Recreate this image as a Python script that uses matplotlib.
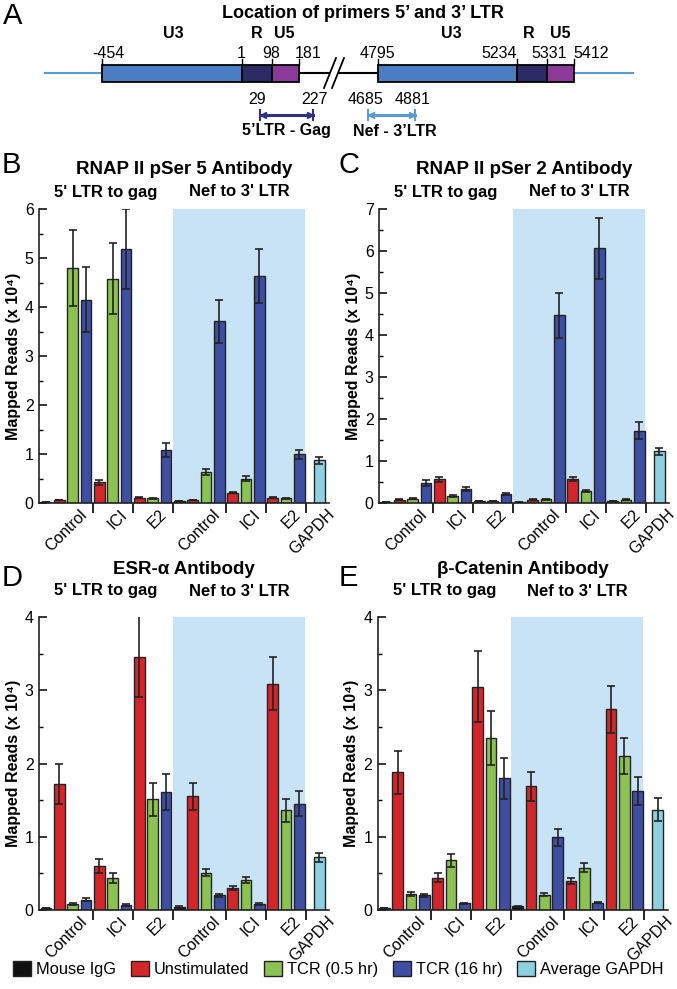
import matplotlib
matplotlib.use("Agg")
import matplotlib.pyplot as plt
from matplotlib.patches import Rectangle, Patch, Polygon
from matplotlib.ticker import MultipleLocator

plt.rcParams["font.family"] = ["Liberation Sans", "DejaVu Sans"]

W, H = 677, 989

# ---- data -------------------------------------------------------------
# bar order inside each primer region: Control (IgG + 3), ICI (3), E2 (3)
slot_series = ["igg", "unstim", "tcr05", "tcr16",
               "unstim", "tcr05", "tcr16",
               "unstim", "tcr05", "tcr16"] * 2
group_labels = ["Control", "ICI", "E2", "Control", "ICI", "E2", "GAPDH"]
group_sizes = [4, 3, 3, 4, 3, 3]

pser5_vals = [0.03, 0.06, 4.80, 4.15, 0.42, 4.58, 5.18, 0.11, 0.10, 1.08,
              0.05, 0.07, 0.63, 3.71, 0.21, 0.50, 4.63, 0.11, 0.10, 0.99]
pser5_err = [0.0, 0.0, 0.77, 0.66, 0.05, 0.73, 0.82, 0.01, 0.01, 0.15,
             0.0, 0.0, 0.06, 0.44, 0.01, 0.05, 0.55, 0.01, 0.01, 0.10]
pser5_gapdh, pser5_gapdh_err = 0.87, 0.07

pser2_vals = [0.02, 0.08, 0.10, 0.48, 0.56, 0.17, 0.33, 0.04, 0.05, 0.22,
              0.03, 0.08, 0.09, 4.47, 0.57, 0.29, 6.06, 0.05, 0.08, 1.72]
pser2_err = [0.0, 0.01, 0.01, 0.07, 0.07, 0.02, 0.04, 0.0, 0.0, 0.02,
             0.0, 0.01, 0.01, 0.53, 0.05, 0.02, 0.72, 0.0, 0.01, 0.20]
pser2_gapdh, pser2_gapdh_err = 1.23, 0.08

esr_vals = [0.03, 1.72, 0.08, 0.14, 0.60, 0.44, 0.07, 3.46, 1.51, 1.61,
            0.04, 1.55, 0.51, 0.20, 0.30, 0.41, 0.08, 3.09, 1.36, 1.45]
esr_err = [0.0, 0.27, 0.01, 0.02, 0.09, 0.07, 0.01, 0.55, 0.23, 0.25,
           0.01, 0.18, 0.05, 0.02, 0.03, 0.04, 0.01, 0.36, 0.16, 0.17]
esr_gapdh, esr_gapdh_err = 0.72, 0.06

bcat_vals = [0.03, 1.88, 0.22, 0.20, 0.44, 0.68, 0.09, 3.05, 2.35, 1.80,
             0.05, 1.69, 0.21, 0.99, 0.40, 0.58, 0.10, 2.74, 2.10, 1.62]
bcat_err = [0.0, 0.29, 0.03, 0.02, 0.06, 0.09, 0.01, 0.48, 0.37, 0.28,
            0.01, 0.20, 0.02, 0.11, 0.04, 0.06, 0.01, 0.32, 0.25, 0.19]
bcat_gapdh, bcat_gapdh_err = 1.37, 0.16

series_names = {"igg": "Mouse IgG", "unstim": "Unstimulated", "tcr05": "TCR (0.5 hr)",
                "tcr16": "TCR (16 hr)", "gapdh": "Average GAPDH"}
colors = {"igg": "#111111", "unstim": "#d3262a", "tcr05": "#8cc252",
          "tcr16": "#3e4fa2", "gapdh": "#8ecfe0"}
SHADE = "#c8e3f5"
EDGE = "#222222"

ltr5_coords = ["-454", "1", "98", "181"]
ltr3_coords = ["4795", "5234", "5331", "5412"]
primer_coords = ["29", "227", "4685", "4881"]

fig = plt.figure(figsize=(W / 100, H / 100), dpi=100)


def px_axes(left, top, width, height):
    return fig.add_axes([left / W, 1 - (top + height) / H, width / W, height / H])


# ---- panel A: LTR schematic (drawn in pixel units) -------------------
axA = px_axes(0, 0, W, 150)
axA.set_xlim(0, W)
axA.set_ylim(150, 0)
axA.axis("off")

box_top, box_bot, mid = 65, 82, 73
ltr5_edges = [102, 242, 272, 299]
ltr3_edges = [378, 517, 547, 574]
seg_colors = ["#4b7dc2", "#2b2c66", "#8b3a99"]
axA.plot([45, 102], [mid, mid], color="#5b9bd5", lw=1.5)
axA.plot([574, 633], [mid, mid], color="#5b9bd5", lw=1.5)
axA.plot([299, 378], [mid, mid], color="black", lw=1.5)
axA.add_patch(Polygon([[324, 88], [336, 58], [344, 58], [332, 88]],
                      closed=True, facecolor="white", edgecolor="none", zorder=3))
for x0 in (324, 332):
    axA.plot([x0, x0 + 12], [88, 58], color="black", lw=1.3, zorder=4)
for edges in (ltr5_edges, ltr3_edges):
    for i in range(3):
        axA.add_patch(Rectangle((edges[i], box_top), edges[i + 1] - edges[i], box_bot - box_top,
                                facecolor=seg_colors[i], edgecolor="black", lw=1.3, zorder=2))
    for e in edges:
        axA.plot([e, e], [59, box_top], color="black", lw=1.0)

for x, lab in zip([173, 257, 284, 451, 529, 560], ["U3", "R", "U5"] * 2):
    axA.text(x, 34, lab, ha="center", va="center", fontsize=11.5, fontweight="bold")
for x, lab in zip([108, 241, 271, 308, 377, 499, 549, 591], ltr5_coords + ltr3_coords):
    axA.text(x, 53, lab, ha="center", va="center", fontsize=11.5)
for x, lab in zip([257, 314, 366, 413], primer_coords):
    axA.text(x, 99, lab, ha="center", va="center", fontsize=11.5)

for (x0, x1), c in zip([(260, 313), (368, 415)], ["#2e3184", "#5b9bd5"]):
    axA.plot([x0, x1], [115, 115], color=c, lw=2.2)
    axA.plot([x0 + 3], [115], marker="<", color=c, ms=5)
    axA.plot([x1 - 3], [115], marker=">", color=c, ms=5)
    axA.plot([x0, x0], [110, 120], color=c, lw=1.5)
    axA.plot([x1, x1], [110, 120], color=c, lw=1.5)
axA.text(286, 131, "5\u2019LTR - Gag", ha="center", va="center", fontsize=11.5, fontweight="bold")
axA.text(395, 131, "Nef - 3\u2019LTR", ha="center", va="center", fontsize=11.5, fontweight="bold")
axA.text(363, 13, "Location of primers 5\u2019 and 3\u2019 LTR", ha="center", va="center",
         fontsize=13, fontweight="bold")
fig.text(13 / W, 1 - 16 / H, "A", ha="center", va="center", fontsize=21)


# ---- bar panels ---------------------------------------------------------
bounds = [sum(group_sizes[:i + 1]) for i in range(len(group_sizes))]
slot_x = [i + 0.5 for i in range(len(slot_series))]
gapdh_x = bounds[-1] + 1.0
label_x = [b - 0.6 for b in bounds] + [gapdh_x + 0.95]


def draw_panel(ax, vals, errs, gval, gerr, ymax):
    ax.axvspan(bounds[2], bounds[-1] - 0.1, color=SHADE, lw=0, zorder=0)
    ax.bar(slot_x, vals, width=0.8, color=[colors[s] for s in slot_series],
           edgecolor=EDGE, linewidth=1.0, zorder=2)
    ax.bar([gapdh_x], [gval], width=0.8, color=colors["gapdh"], edgecolor=EDGE,
           linewidth=1.0, zorder=2)
    ax.errorbar(slot_x + [gapdh_x], vals + [gval], yerr=errs + [gerr], fmt="none",
                ecolor=EDGE, elinewidth=1.2, capsize=3, capthick=1.2, zorder=3)
    ax.set_xlim(0, 21.75)
    ax.set_ylim(0, ymax)
    for s in ("top", "right"):
        ax.spines[s].set_visible(False)
    for s in ("left", "bottom"):
        ax.spines[s].set_linewidth(1.2)
        ax.spines[s].set_color(EDGE)
    ax.yaxis.set_major_locator(MultipleLocator(1))
    ax.yaxis.set_minor_locator(MultipleLocator(0.5))
    ax.tick_params(axis="y", which="major", direction="in", length=6, width=1.1,
                   labelsize=11.5, pad=4)
    ax.tick_params(axis="y", which="minor", direction="in", length=3, width=1.0)
    ax.set_xticks(bounds)
    ax.set_xticklabels([])
    ax.tick_params(axis="x", which="major", direction="out", length=7, width=1.2)
    hpx = ax.get_position().height * H
    for x, lab in zip(label_x, group_labels):
        ax.text(x, -9 / hpx, lab, transform=ax.get_xaxis_transform(), rotation=45,
                rotation_mode="anchor", ha="right", va="center", fontsize=11.5)
    ax.set_ylabel("Mapped Reads (x 10\u2074)", fontsize=11.5, fontweight="bold", labelpad=3)


panels = [
    (39.3, 209, 294, pser5_vals, pser5_err, pser5_gapdh, pser5_gapdh_err, 6,
     "RNAP II pSer 5 Antibody", "B", 170, 192, 11, 165),
    (379.3, 209, 294, pser2_vals, pser2_err, pser2_gapdh, pser2_gapdh_err, 7,
     "RNAP II pSer 2 Antibody", "C", 170, 192, 349, 165),
    (39.3, 617, 293, esr_vals, esr_err, esr_gapdh, esr_gapdh_err, 4,
     "ESR-\u03b1 Antibody", "D", 570, 591, 12, 578),
    (377.7, 617, 293, bcat_vals, bcat_err, bcat_gapdh, bcat_gapdh_err, 4,
     "\u03b2-Catenin Antibody", "E", 570, 591, 348, 578),
]

for left, top, hgt, vals, errs, gval, gerr, ymax, title, letter, ty, sy, lx, ly in panels:
    ax = px_axes(left, top, 290, hgt)
    draw_panel(ax, vals, errs, gval, gerr, ymax)
    cx = left + 145
    fig.text(cx / W, 1 - ty / H, title, ha="center", va="center", fontsize=13.5,
             fontweight="bold")
    for reg_x, reg in zip([5, 15], ["5' LTR to gag", "Nef to 3' LTR"]):
        fig.text((left + reg_x * 290 / 21.75) / W, 1 - sy / H, reg, ha="center",
                 va="center", fontsize=12, fontweight="bold")
    fig.text(lx / W, 1 - ly / H, letter, ha="center", va="center", fontsize=21)

handles = [Patch(facecolor=colors[k], edgecolor=EDGE, lw=1.0) for k in series_names]
fig.legend(handles, list(series_names.values()), loc="center", bbox_to_anchor=(0.5, 1 - 969 / H),
           ncol=5, frameon=False, fontsize=11.8, handlelength=1.1, handleheight=1.0,
           handletextpad=0.3, columnspacing=0.9, borderaxespad=0)

fig.savefig("out.png", dpi=100)
